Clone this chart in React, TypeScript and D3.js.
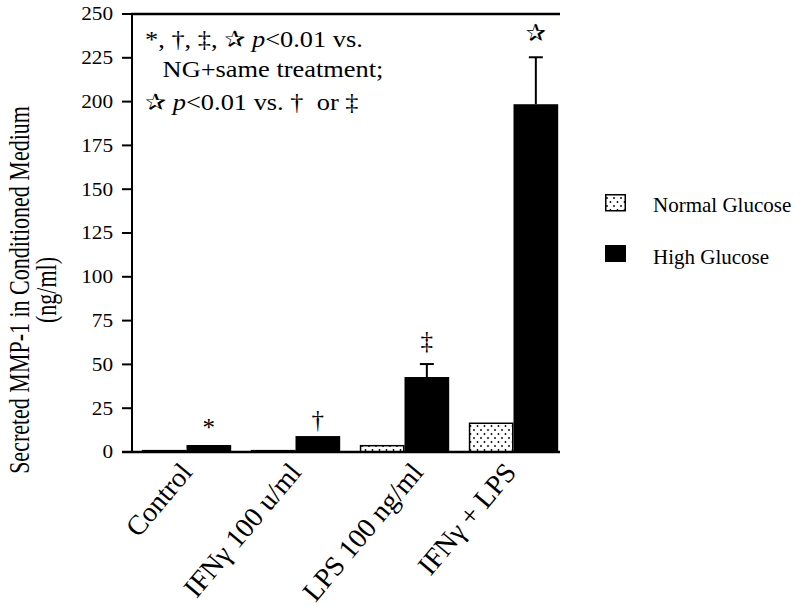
import React from "react";
import * as d3 from "d3";

const categories = ["Control", "IFNγ 100 u/ml", "LPS 100 ng/ml", "IFNγ + LPS"];
const normalGlucose = [1.2, 1.2, 3.6, 16.4];
const highGlucose = [4.0, 9.1, 42.8, 198.5];
const highGlucoseErr = [0, 0, 7.4, 26.8];
const markers = ["*", "†", "‡", "✰"];
const yTicks = [0, 25, 50, 75, 100, 125, 150, 175, 200, 225, 250];
const seriesNames = ["Normal Glucose", "High Glucose"];

// layout-only shifts of the rotated category labels (px)
const labelShift = [7, 7, 20, 4];

const W = 800;
const H = 606;
const left = 132;
const right = 560;
const top = 14;
const bottom = 452;
const serif = "'Liberation Serif', 'Times New Roman', serif";
const starFont = "'DejaVu Sans', sans-serif";

export default function App() {
  const y = d3.scaleLinear().domain([0, 250]).range([bottom, top]);
  const x0 = d3
    .scaleBand<string>()
    .domain(categories)
    .range([left, 568])
    .paddingInner(0.18)
    .paddingOuter(0.09);
  const x1 = d3
    .scaleBand<string>()
    .domain(seriesNames)
    .range([0, x0.bandwidth()])
    .padding(0);

  return (
    <svg
      width={W}
      height={H}
      style={{ position: "absolute", left: 0, top: 0, background: "#fff" }}
    >
      <defs>
        <pattern id="dots" width="7" height="8" patternUnits="userSpaceOnUse">
          <rect width="7" height="8" fill="#fff" />
          <circle cx="1.5" cy="2" r="0.9" fill="#000" />
          <circle cx="5" cy="6" r="0.9" fill="#000" />
        </pattern>
      </defs>

      {/* Bars */}
      {categories.map((c, i) => {
        const gx = x0(c)!;
        const ng = normalGlucose[i];
        const hg = highGlucose[i];
        const err = highGlucoseErr[i];
        const xn = gx + x1(seriesNames[0])!;
        const xh = gx + x1(seriesNames[1])!;
        const bw = x1.bandwidth();
        const hTop = y(hg);
        const eTop = y(hg + err);
        const cx = xh + bw / 2;
        const thin = bottom - y(ng) < 4;
        return (
          <g key={c}>
            {thin ? (
              <rect x={xn} y={y(ng)} width={bw} height={bottom - y(ng)} fill="#000" />
            ) : (
              <rect
                x={xn + 0.75}
                y={y(ng)}
                width={bw - 1.5}
                height={bottom - y(ng)}
                fill="url(#dots)"
                stroke="#000"
                strokeWidth={1.5}
              />
            )}
            <rect x={xh} y={hTop} width={bw} height={bottom - hTop} fill="#000" />
            {err > 0 && (
              <g stroke="#000" strokeWidth={2}>
                <line x1={cx} x2={cx} y1={hTop} y2={eTop} />
                <line x1={cx - 7} x2={cx + 7} y1={eTop} y2={eTop} />
              </g>
            )}
            <text
              x={cx}
              y={eTop - (err > 0 ? 24 : 17)}
              textAnchor="middle"
              dominantBaseline="central"
              fontFamily={markers[i] === "✰" ? starFont : serif}
              fontSize={markers[i] === "✰" ? 24 : 25}
            >
              {markers[i]}
            </text>
          </g>
        );
      })}

      {/* Axes */}
      <g stroke="#000" strokeWidth={2}>
        <line x1={left} x2={left} y1={top - 1} y2={bottom + 1} />
        <line x1={left - 1} x2={right} y1={top} y2={top} strokeWidth={2.5} />
        <line x1={left - 10} x2={right} y1={bottom} y2={bottom} strokeWidth={2.5} />
        {yTicks.map((t) => (
          <line key={t} x1={left - 10} x2={left} y1={y(t)} y2={y(t)} />
        ))}
      </g>
      {yTicks.map((t) => (
        <text
          key={t}
          transform={`translate(113,${y(t)}) scale(1.18,1)`}
          textAnchor="end"
          dominantBaseline="central"
          fontFamily={serif}
          fontSize={18}
        >
          {t}
        </text>
      ))}

      {/* X labels */}
      {categories.map((c, i) => {
        const cx = x0(c)! + x0.bandwidth() / 2 + labelShift[i];
        return (
          <text
            key={c}
            transform={`translate(${cx},473) rotate(-50)`}
            textAnchor="end"
            fontFamily={serif}
            fontSize={28}
          >
            {c}
          </text>
        );
      })}

      {/* Y title */}
      <text
        transform="translate(29,290) scale(1.35,1) rotate(-90)"
        textAnchor="middle"
        fontFamily={serif}
        fontSize={22}
      >
        Secreted MMP-1 in Conditioned Medium
      </text>
      <text
        transform="translate(56,290) scale(1.3,1) rotate(-90)"
        textAnchor="middle"
        fontFamily={serif}
        fontSize={22}
      >
        (ng/ml)
      </text>

      {/* Annotation */}
      <g fontFamily={serif} fontSize={24} transform="translate(145,0) scale(1.1,1) translate(-145,0)">
        <text x={145} y={47}>
          <tspan>*, †, ‡, </tspan>
          <tspan fontFamily={starFont} fontSize={23}>✰</tspan>
          <tspan>{"\u00A0"}</tspan>
          <tspan fontStyle="italic">p</tspan>
          <tspan>{"<0.01 vs."}</tspan>
        </text>
        <text x={161} y={77}>
          NG+same treatment;
        </text>
        <text x={145} y={110}>
          <tspan fontFamily={starFont} fontSize={23}>✰</tspan>
          <tspan>{"\u00A0"}</tspan>
          <tspan fontStyle="italic">p</tspan>
          <tspan>{"<0.01 vs. †\u00A0\u00A0or ‡"}</tspan>
        </text>
      </g>

      {/* Legend */}
      <rect x={605.75} y={194.75} width={19.5} height={16} fill="url(#dots)" stroke="#000" strokeWidth={1.5} />
      <text x={653} y={212} fontFamily={serif} fontSize={21}>
        {seriesNames[0]}
      </text>
      <rect x={605} y={245} width={21} height={17} fill="#000" />
      <text x={653} y={264} fontFamily={serif} fontSize={21}>
        {seriesNames[1]}
      </text>
    </svg>
  );
}
